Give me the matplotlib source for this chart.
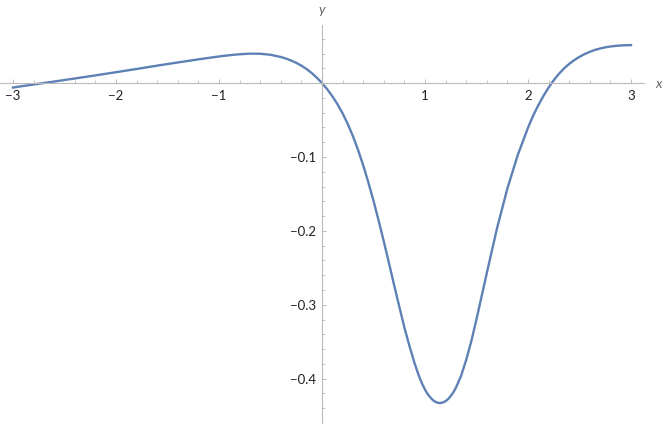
import matplotlib
matplotlib.use("Agg")
import matplotlib.pyplot as plt
from matplotlib.ticker import FixedLocator, FixedFormatter

# values
xs = [-3.0, -2.8, -2.6, -2.4, -2.2, -2.0, -1.8, -1.6, -1.4, -1.2, -1.0, -0.9,
      -0.8, -0.7, -0.6, -0.5, -0.4, -0.35, -0.3, -0.25, -0.2, -0.15, -0.1,
      -0.05, 0.0, 0.05, 0.1, 0.15, 0.2, 0.25, 0.3, 0.35, 0.4, 0.45, 0.5, 0.55,
      0.6, 0.65, 0.7, 0.75, 0.8, 0.85, 0.9, 0.925, 0.95, 0.975, 1.0, 1.025,
      1.05, 1.075, 1.1, 1.125, 1.15, 1.175, 1.2, 1.225, 1.25, 1.275, 1.3,
      1.35, 1.4, 1.45, 1.5, 1.6, 1.7, 1.8, 1.9, 2.0, 2.05, 2.1, 2.15, 2.2,
      2.25, 2.3, 2.35, 2.4, 2.45, 2.5, 2.55, 2.6, 2.65, 2.7, 2.75, 2.8, 2.85,
      2.9, 2.95, 3.0]
ys = [-0.0060, -0.0019, 0.0021, 0.0062, 0.0104, 0.0147, 0.0191, 0.0236,
      0.0279, 0.0321, 0.0360, 0.0377, 0.0390, 0.0398, 0.0397, 0.0383, 0.0353,
      0.0332, 0.0305, 0.0274, 0.0236, 0.0190, 0.0136, 0.0073, 0.0, -0.0082,
      -0.0178, -0.0285, -0.0410, -0.0553, -0.0718, -0.0904, -0.1113, -0.1344,
      -0.1593, -0.1862, -0.2143, -0.2435, -0.2733, -0.3022, -0.3308, -0.3563,
      -0.3798, -0.3900, -0.3995, -0.4078, -0.4148, -0.4206, -0.4252, -0.4288,
      -0.4313, -0.4327, -0.4330, -0.4322, -0.4304, -0.4275, -0.4235, -0.4185,
      -0.4123, -0.3963, -0.3745, -0.3490, -0.3195, -0.2570, -0.1960, -0.1425,
      -0.0975, -0.0603, -0.0440, -0.0300, -0.0173, -0.0060, 0.0039, 0.0125,
      0.0199, 0.0260, 0.0312, 0.0355, 0.0393, 0.0423, 0.0449, 0.0468, 0.0484,
      0.0495, 0.0503, 0.0509, 0.0512, 0.0514]

x_major = [-3, -2, -1, 1, 2, 3]
x_labels = ["\u22123", "\u22122", "\u22121", "1", "2", "3"]
y_major = [-0.4, -0.3, -0.2, -0.1]
y_labels = ["\u22120.4", "\u22120.3", "\u22120.2", "\u22120.1"]

W, H = 664, 424
fig = plt.figure(figsize=(W / 100, H / 100), dpi=100)
ax = fig.add_axes([0, 1 / H, 644 / W, 398 / H])
ax.set_xlim(-3.126, 3.126)
ax.set_ylim(-0.46, 0.0786)

ax.plot(xs, ys, color="#5E81B5", lw=1.7, solid_joinstyle="round")

axis_col = "#BBBBBB"
for s in ["top", "right"]:
    ax.spines[s].set_visible(False)
ax.spines["left"].set_position(("data", 0))
ax.spines["bottom"].set_position(("data", 0))
for s in ["left", "bottom"]:
    ax.spines[s].set_color(axis_col)
    ax.spines[s].set_linewidth(0.8)
ax.patch.set_visible(False)

ax.xaxis.set_major_locator(FixedLocator(x_major))
ax.xaxis.set_major_formatter(FixedFormatter(x_labels))
xminor = [round(-3 + 0.2 * i, 2) for i in range(31)]
xminor = [v for v in xminor if abs(v - round(v)) > 1e-6]
ax.xaxis.set_minor_locator(FixedLocator(xminor))

ax.yaxis.set_major_locator(FixedLocator(y_major))
ax.yaxis.set_major_formatter(FixedFormatter(y_labels))
yminor = [round(-0.44 + 0.02 * i, 2) for i in range(26)]
yminor = [v for v in yminor if abs(v * 10 - round(v * 10)) > 1e-6]
ax.yaxis.set_minor_locator(FixedLocator(yminor))

fam = ["Lato", "DejaVu Sans"]
ax.tick_params(which="major", direction="in", length=3.2, width=0.7,
               color=axis_col, labelsize=9.5, labelcolor="#222222")
ax.tick_params(which="minor", direction="in", length=2.0, width=0.6,
               color=axis_col)
ax.tick_params(axis="x", which="major", pad=5)
ax.tick_params(axis="y", which="major", pad=4)
for lab in ax.get_xticklabels() + ax.get_yticklabels():
    lab.set_family(fam)

fig.text(659 / W, 1 - 84 / H, "x", ha="center", va="center", fontsize=10,
         style="italic", color="#666666", family=fam)
fig.text(322 / W, 1 - 10 / H, "y", ha="center", va="center", fontsize=10,
         style="italic", color="#666666", family=fam)

fig.savefig("out.png", dpi=100)
